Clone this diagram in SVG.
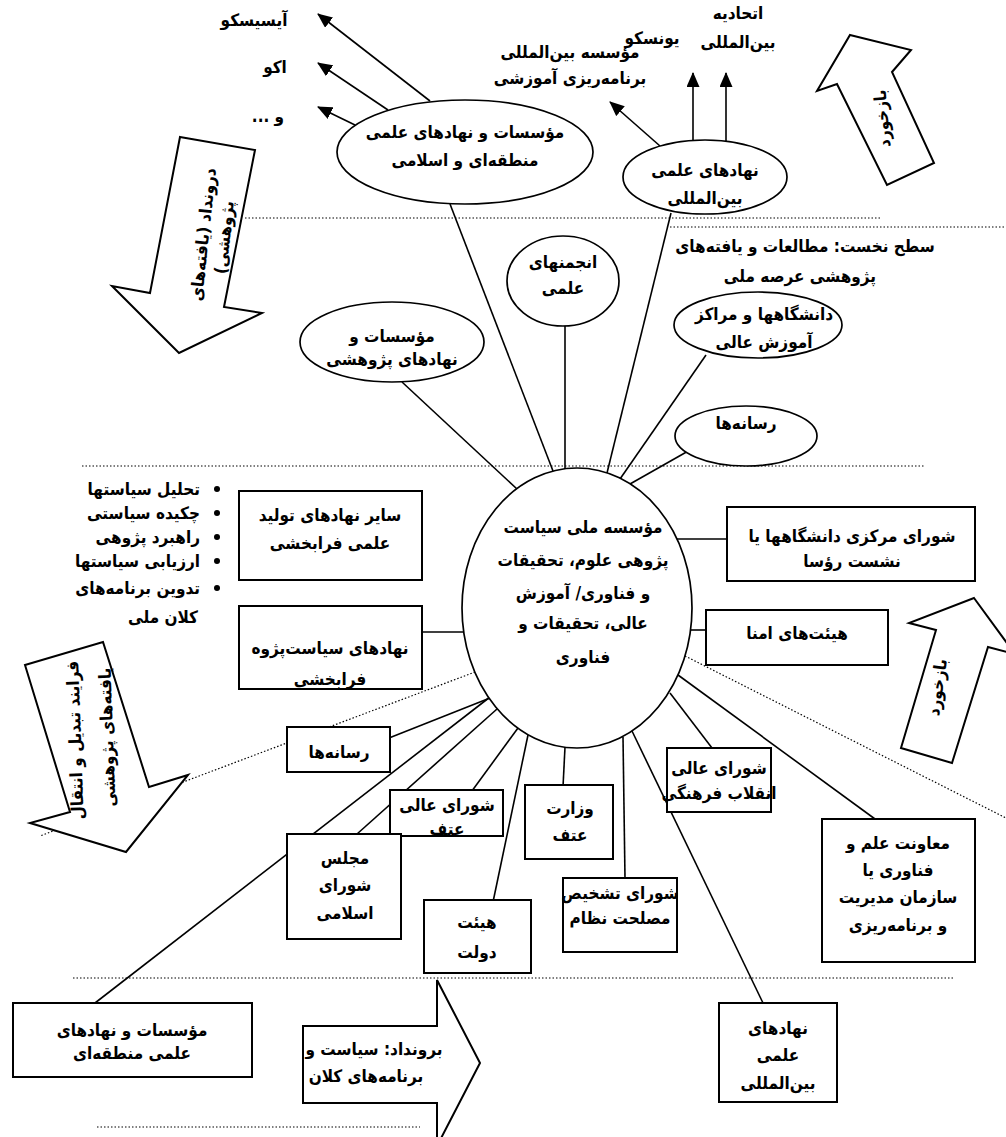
<svg xmlns="http://www.w3.org/2000/svg" width="1006" height="1137" viewBox="0 0 1006 1137">
<defs>
<marker id="ah" markerUnits="userSpaceOnUse" markerWidth="15" markerHeight="13" refX="14" refY="6.5" orient="auto">
<path d="M0,0 L15,6.5 L0,13 z" fill="#000"/>
</marker>
<style>
.t{font-family:"DejaVu Sans Condensed","DejaVu Sans",sans-serif;font-size:17px;font-weight:bold;text-anchor:middle;direction:rtl;fill:#000}
.r{font-family:"DejaVu Sans Condensed","DejaVu Sans",sans-serif;font-size:17px;font-weight:bold;text-anchor:start;direction:rtl;fill:#000}
.n{fill:#fff;stroke:#000;stroke-width:2}
.e{fill:#fff;stroke:#000;stroke-width:1.7}
.c{stroke:#000;stroke-width:1.6;fill:none}
.d{stroke:#000;stroke-width:1.2;stroke-dasharray:1.5 2;fill:none}
</style>
</defs>
<rect width="1006" height="1137" fill="#fff"/>

<g id="connectors">
<line class="d" x1="245" y1="218" x2="882" y2="218"/>
<line class="d" x1="670" y1="227" x2="1006" y2="227"/>
<line class="d" x1="82" y1="466" x2="925" y2="466"/>
<line class="d" x1="73" y1="978" x2="955" y2="978"/>
<line class="d" x1="97" y1="1127" x2="420" y2="1127"/>
<line class="d" x1="475" y1="672" x2="40" y2="836"/>
<line class="d" x1="685" y1="656" x2="1006" y2="818"/>

<line class="c" x1="430" y1="101" x2="318" y2="14" marker-end="url(#ah)"/>
<line class="c" x1="388" y1="110" x2="318" y2="63" marker-end="url(#ah)"/>
<line class="c" x1="355" y1="125" x2="318" y2="107" marker-end="url(#ah)"/>
<line class="c" x1="660" y1="146" x2="610" y2="102" marker-end="url(#ah)"/>
<line class="c" x1="693" y1="141" x2="693" y2="73" marker-end="url(#ah)"/>
<line class="c" x1="726" y1="141" x2="726" y2="73" marker-end="url(#ah)"/>

<line class="c" x1="450" y1="204" x2="553" y2="471"/>
<line class="c" x1="671" y1="213" x2="607" y2="473"/>
<line class="c" x1="565" y1="325" x2="565" y2="469"/>
<line class="c" x1="402" y1="382" x2="517" y2="489"/>
<line class="c" x1="706" y1="355" x2="620" y2="479"/>
<line class="c" x1="690" y1="450" x2="630" y2="484"/>

<line class="c" x1="422" y1="632" x2="463" y2="632"/>
<line class="c" x1="677" y1="539" x2="727" y2="539"/>
<line class="c" x1="691" y1="630" x2="706" y2="630"/>

<line class="c" x1="389" y1="738" x2="490" y2="698"/>
<line class="c" x1="95" y1="1003" x2="490" y2="697"/>
<line class="c" x1="357" y1="834" x2="497" y2="709"/>
<line class="c" x1="469" y1="795" x2="518" y2="728"/>
<line class="c" x1="493" y1="902" x2="528" y2="735"/>
<line class="c" x1="563" y1="787" x2="565" y2="747"/>
<line class="c" x1="625" y1="878" x2="623" y2="737"/>
<line class="c" x1="763" y1="1003" x2="632" y2="731"/>
<line class="c" x1="712" y1="748" x2="670" y2="693"/>
<line class="c" x1="875" y1="819" x2="678" y2="675"/>
</g>

<g id="labels-top">
<text class="t" x="254" y="26">آیسیسکو</text>
<text class="t" x="275" y="73">اکو</text>
<text class="t" x="268" y="122">و ...</text>
<text class="t" x="652" y="44">یونسکو</text>
<text class="t" x="570" y="58">مؤسسه بین‌المللی</text>
<text class="t" x="570" y="84">برنامه‌ریزی آموزشی</text>
<text class="t" x="738" y="19">اتحادیه</text>
<text class="t" x="738" y="48">بین‌المللی</text>
<text class="t" x="805" y="252">سطح نخست: مطالعات و یافته‌های</text>
<text class="t" x="800" y="282">پژوهشی عرصه ملی</text>
</g>

<g id="arrow-dorondad">
<polygon class="n" points="180,137 255,150 224,307 262,313 179,353 112,286 150,293"/>
<text class="t" transform="translate(209,235) rotate(-84)">درونداد (یافته‌های</text>
<text class="t" transform="translate(230,238) rotate(-84)">پژوهشی)</text>
</g>

<g id="arrow-bazkhord-1">
<polygon class="n" points="850,35 911,50 892,72 934,163 887,185 837,84 817,91"/>
<text class="t" transform="translate(888,118) rotate(-95)">بازخورد</text>
</g>

<g id="arrow-bazkhord-2">
<polygon class="n" points="974,598 1015,654 988,647 952,763 901,748 936,630 909,623"/>
<text class="t" transform="translate(943,688) rotate(-82)">بازخورد</text>
</g>

<g id="arrow-farayand">
<polygon class="n" points="25,665 103,642 149,787 188,775 126,852 30,823 70,812"/>
<text class="t" transform="translate(81,740) rotate(-92)">فرایند تبدیل و انتقال</text>
<text class="t" transform="translate(113,737) rotate(-92)">یافته‌های پژوهشی</text>
</g>

<g id="arrow-borondad">
<polygon class="n" points="303,1026 437,1026 437,980 480,1063 437,1146 437,1103 303,1103"/>
<text class="t" x="374" y="1055">برونداد: سیاست و</text>
<text class="t" x="366" y="1082">برنامه‌های کلان</text>
</g>

<g id="node-regional">
<ellipse class="e" cx="465" cy="152" rx="128" ry="52"/>
<text class="t" x="465" y="138">مؤسسات و نهادهای علمی</text>
<text class="t" x="465" y="166">منطقه‌ای و اسلامی</text>
</g>

<g id="node-intl-top">
<ellipse class="e" cx="705" cy="177" rx="82" ry="37"/>
<text class="t" x="705" y="176">نهادهای علمی</text>
<text class="t" x="705" y="204">بین‌المللی</text>
</g>

<g id="node-anjoman">
<ellipse class="e" cx="563" cy="281" rx="56" ry="45"/>
<text class="t" x="563" y="268">انجمنهای</text>
<text class="t" x="563" y="294">علمی</text>
</g>

<g id="node-research">
<ellipse class="e" cx="392" cy="342" rx="92" ry="40"/>
<text class="t" x="392" y="342">مؤسسات و</text>
<text class="t" x="392" y="365">نهادهای پژوهشی</text>
</g>

<g id="node-universities">
<ellipse class="e" cx="758" cy="325" rx="84" ry="33"/>
<text class="t" x="764" y="320">دانشگاهها و مراکز</text>
<text class="t" x="764" y="348">آموزش عالی</text>
</g>

<g id="node-media-top">
<ellipse class="e" cx="746" cy="436" rx="71" ry="30"/>
<text class="t" x="746" y="429">رسانه‌ها</text>
</g>

<g id="node-center">
<ellipse class="e" cx="577" cy="608" rx="115" ry="140"/>
<text class="t" x="583" y="533">مؤسسه ملی سیاست</text>
<text class="t" x="583" y="566">پژوهی علوم، تحقیقات</text>
<text class="t" x="583" y="599">و فناوری/ آموزش</text>
<text class="t" x="583" y="629">عالی، تحقیقات و</text>
<text class="t" x="583" y="663">فناوری</text>
</g>

<g id="bullets">
<circle cx="217" cy="489" r="3"/>
<circle cx="217" cy="513" r="3"/>
<circle cx="217" cy="537" r="3"/>
<circle cx="217" cy="561" r="3"/>
<circle cx="217" cy="588" r="3"/>
<text class="r" x="200" y="495">تحلیل سیاستها</text>
<text class="r" x="200" y="519">چکیده سیاستی</text>
<text class="r" x="200" y="543">راهبرد پژوهی</text>
<text class="r" x="200" y="567">ارزیابی سیاستها</text>
<text class="r" x="200" y="594">تدوین برنامه‌های</text>
<text class="r" x="198" y="623">کلان ملی</text>
</g>

<g id="node-other-producers">
<rect class="n" x="239" y="491" width="183" height="89"/>
<text class="t" x="330" y="521">سایر نهادهای تولید</text>
<text class="t" x="330" y="549">علمی فرابخشی</text>
</g>

<g id="node-policy-research">
<rect class="n" x="239" y="606" width="183" height="83"/>
<text class="t" x="330" y="654">نهادهای سیاست‌پژوه</text>
<text class="t" x="330" y="685">فرابخشی</text>
</g>

<g id="node-central-council">
<rect class="n" x="727" y="507" width="248" height="74"/>
<text class="t" x="852" y="542">شورای مرکزی دانشگاهها یا</text>
<text class="t" x="852" y="567">نشست رؤسا</text>
</g>

<g id="node-trustees">
<rect class="n" x="706" y="610" width="182" height="55"/>
<text class="t" x="797" y="639">هیئت‌های امنا</text>
</g>

<g id="node-media-bottom">
<rect class="n" x="287" y="727" width="103" height="45"/>
<text class="t" x="339" y="758">رسانه‌ها</text>
</g>

<g id="node-high-council-atf">
<rect class="n" x="390" y="790" width="113" height="46"/>
<text class="t" x="447" y="811">شورای عالی</text>
<text class="t" x="447" y="835">عتف</text>
</g>

<g id="node-majlis">
<rect class="n" x="287" y="834" width="114" height="105"/>
<text class="t" x="345" y="864">مجلس</text>
<text class="t" x="345" y="891">شورای</text>
<text class="t" x="345" y="919">اسلامی</text>
</g>

<g id="node-cabinet">
<rect class="n" x="424" y="900" width="107" height="73"/>
<text class="t" x="477" y="928">هیئت</text>
<text class="t" x="477" y="958">دولت</text>
</g>

<g id="node-ministry">
<rect class="n" x="525" y="785" width="88" height="74"/>
<text class="t" x="570" y="814">وزارت</text>
<text class="t" x="570" y="841">عتف</text>
</g>

<g id="node-expediency">
<rect class="n" x="563" y="878" width="114" height="74"/>
<text class="t" x="620" y="899">شورای تشخیص</text>
<text class="t" x="620" y="924">مصلحت نظام</text>
</g>

<g id="node-cultural-revolution">
<rect class="n" x="667" y="748" width="104" height="64"/>
<text class="t" x="719" y="774">شورای عالی</text>
<text class="t" x="719" y="799">انقلاب فرهنگی</text>
</g>

<g id="node-vice-presidency">
<rect class="n" x="822" y="819" width="153" height="143"/>
<text class="t" x="898" y="849">معاونت علم و</text>
<text class="t" x="898" y="876">فناوری یا</text>
<text class="t" x="898" y="903">سازمان مدیریت</text>
<text class="t" x="898" y="931">و برنامه‌ریزی</text>
</g>

<g id="node-intl-bottom">
<rect class="n" x="719" y="1003" width="118" height="99"/>
<text class="t" x="778" y="1034">نهادهای</text>
<text class="t" x="778" y="1061">علمی</text>
<text class="t" x="778" y="1089">بین‌المللی</text>
</g>

<g id="node-regional-bottom">
<rect class="n" x="13" y="1003" width="239" height="74"/>
<text class="t" x="132" y="1036">مؤسسات و نهادهای</text>
<text class="t" x="132" y="1059">علمی منطقه‌ای</text>
</g>
</svg>
